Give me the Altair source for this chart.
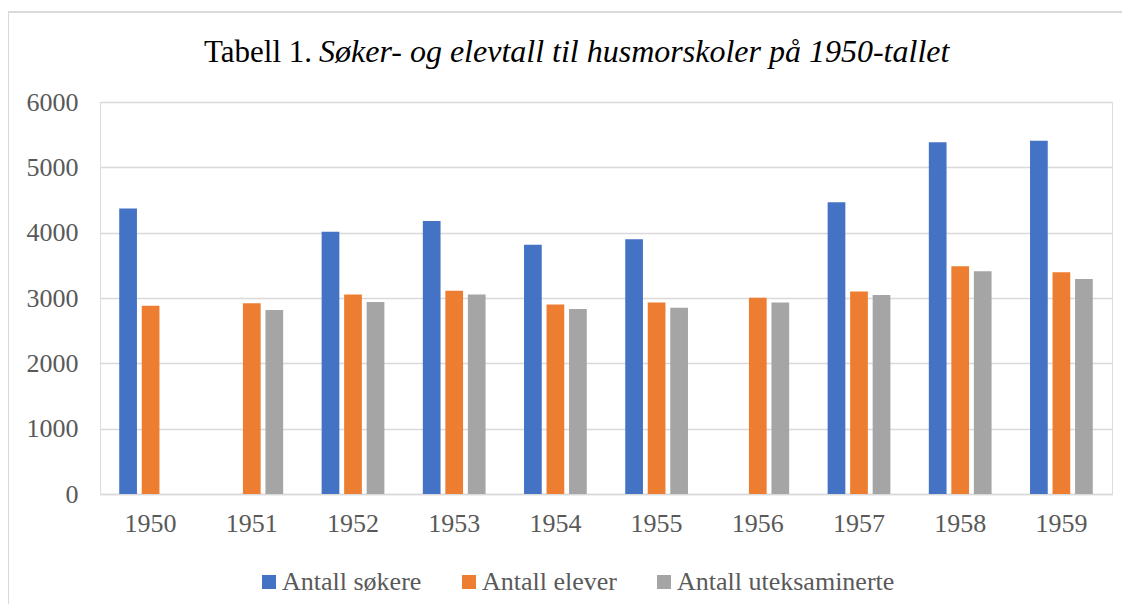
import altair as alt
import pandas as pd

years = ["1950", "1951", "1952", "1953", "1954", "1955", "1956", "1957", "1958", "1959"]
series_names = ["Antall søkere", "Antall elever", "Antall uteksaminerte"]
sokere = [4370, None, 4015, 4180, 3815, 3900, None, 4465, 5385, 5405]
elever = [2880, 2920, 3055, 3110, 2900, 2930, 3005, 3100, 3485, 3395]
uteksaminerte = [None, 2815, 2940, 3055, 2830, 2850, 2930, 3045, 3410, 3290]
colors = ["#4472C4", "#ED7D31", "#A5A5A5"]
title_plain = "Tabell 1."
title_italic = "Søker- og elevtall til husmorskoler på 1950-tallet"

rows = []
for name, vals in zip(series_names, [sokere, elever, uteksaminerte]):
    for y, v in zip(years, vals):
        rows.append({"year": y, "series": name, "value": v})
df = pd.DataFrame(rows)

W, H = 1012, 392
FONT = "Liberation Serif"

bars = alt.Chart(df).transform_filter("isValid(datum.value)").mark_bar().encode(
    x=alt.X("year:N", sort=years, title=None,
            scale=alt.Scale(domain=years, paddingInner=0.38, paddingOuter=0.19),
            axis=alt.Axis(labelAngle=0, ticks=False, domainColor="#d9d9d9", domainWidth=1.5,
                          labelFont=FONT, labelFontSize=26, labelColor="#595959", labelPadding=16)),
    xOffset=alt.XOffset("series:N", sort=series_names,
                        scale=alt.Scale(domain=series_names, paddingInner=0.213, paddingOuter=0)),
    y=alt.Y("value:Q", title=None,
            scale=alt.Scale(domain=[0, 6000], nice=False),
            axis=alt.Axis(values=[0, 1000, 2000, 3000, 4000, 5000, 6000], format="d",
                          ticks=False, domain=False,
                          gridColor="#d9d9d9", gridWidth=1.5, labelFont=FONT, labelFontSize=26,
                          labelColor="#595959", labelPadding=22)),
    color=alt.Color("series:N", sort=series_names,
                    scale=alt.Scale(domain=series_names, range=colors),
                    legend=alt.Legend(title=None, orient="none", direction="horizontal",
                                      legendX=156, legendY=467, symbolType="square", symbolSize=196,
                                      symbolStrokeWidth=0, labelFont=FONT, labelFontSize=26,
                                      labelColor="#595959", columnPadding=34, labelOffset=0,
                                      labelLimit=0, padding=0)),
)

t1 = alt.Chart(pd.DataFrame({"t": [title_plain]})).mark_text(
    align="right", baseline="alphabetic", font=FONT, fontSize=31, color="#000000"
).encode(text="t:N", x=alt.value(212), y=alt.value(-40))

t2 = alt.Chart(pd.DataFrame({"t": [title_italic]})).mark_text(
    align="left", baseline="alphabetic", font=FONT, fontSize=32, fontStyle="italic", color="#000000"
).encode(text="t:N", x=alt.value(219), y=alt.value(-40))

border = alt.Chart(pd.DataFrame({"t": [0]})).mark_rect(
    fill="transparent", stroke="#d9d9d9", strokeWidth=2
).encode(x=alt.value(-92), x2=alt.value(1040), y=alt.value(-90), y2=alt.value(540))

chart = alt.layer(border, bars, t1, t2).properties(
    width=W, height=H,
    autosize=alt.AutoSizeParams(type="none"),
    padding={"left": 92, "top": 94, "right": 10, "bottom": 110},
).configure_view(stroke=None).configure(background="white")

chart.save("out.html", embed_options={"renderer": "svg", "actions": False})
